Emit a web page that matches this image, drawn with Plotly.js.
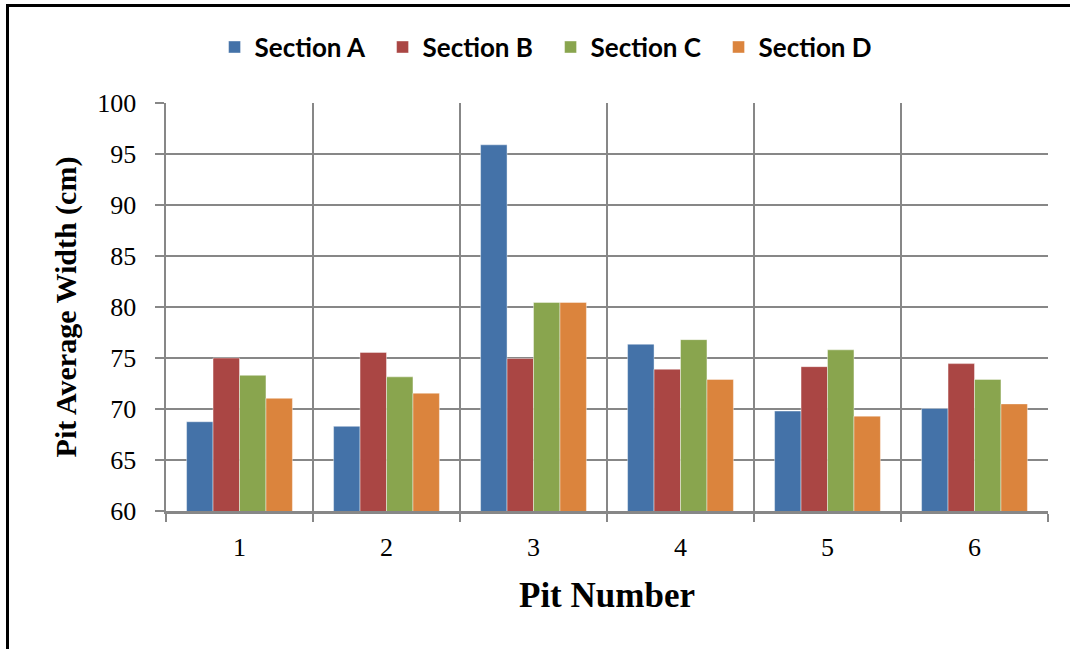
<!DOCTYPE html>
<html>
<head>
<meta charset="utf-8">
<script src="https://cdn.plot.ly/plotly-3.0.1.min.js"></script>
<style>
html,body{margin:0;padding:0;background:#fff;}
#chart{width:1070px;height:649px;}
#frame{position:absolute;left:6px;top:4px;width:1064px;height:645px;border-left:3px solid #000;border-top:3px solid #000;pointer-events:none;box-sizing:border-box;}
</style>
</head>
<body>
<div id="chart"></div>
<div id="frame"></div>
<script>
const pits = ["1", "2", "3", "4", "5", "6"];
const sectionA = [68.75, 68.3, 95.9, 76.35, 69.8, 70.05];
const sectionB = [75.0, 75.55, 74.95, 73.9, 74.15, 74.45];
const sectionC = [73.3, 73.15, 80.45, 76.8, 75.8, 72.9];
const sectionD = [71.05, 71.55, 80.45, 72.9, 69.3, 70.5];
const seriesNames = ["Section A", "Section B", "Section C", "Section D"];
const colors = ["#4472a8", "#aa4644", "#89a54e", "#db843d"];

const all = [sectionA, sectionB, sectionC, sectionD];
const traces = all.map((vals, i) => ({
  type: "bar",
  name: seriesNames[i],
  x: pits,
  y: vals,
  marker: {color: colors[i], line: {color: "rgba(255,255,255,0.6)", width: 0.7}},
  hoverinfo: "x+y+name"
}));

const serif = "'Liberation Serif', 'Times New Roman', serif";
const layout = {
  width: 1070, height: 649,
  margin: {l: 166, r: 22, t: 103, b: 138},
  paper_bgcolor: "#fff", plot_bgcolor: "#fff",
  barmode: "group",
  bargap: 0.28,
  bargroupgap: 0,
  showlegend: true,
  legend: {
    orientation: "h", x: 0.436, xanchor: "center", y: 1.137, yanchor: "middle",
    font: {family: "Lato, 'Open Sans', sans-serif", size: 26, color: "#000", weight: "bold"},
    itemwidth: 30, traceorder: "normal",
    entrywidth: 123, entrywidthmode: "pixels"
  },
  xaxis: {
    type: "category",
    tickson: "boundaries",
    showgrid: true, gridcolor: "#878787", gridwidth: 2.5,
    showline: true, linecolor: "#878787", linewidth: 2.5,
    ticks: "outside", ticklen: 8, tickwidth: 2.5, tickcolor: "#878787",
    ticklabelstandoff: 11,
    tickfont: {family: serif, size: 26, color: "#000"},
    title: {text: "Pit Number", font: {family: serif, size: 35, color: "#000", weight: "bold"}, standoff: 22},
    mirror: false, fixedrange: true
  },
  yaxis: {
    range: [60, 100],
    tickvals: [60, 65, 70, 75, 80, 85, 90, 95, 100],
    showgrid: true, gridcolor: "#878787", gridwidth: 2.5,
    showline: true, linecolor: "#878787", linewidth: 2.5,
    ticks: "outside", ticklen: 9, tickwidth: 2.5, tickcolor: "#878787",
    ticklabelstandoff: 13,
    tickfont: {family: serif, size: 26, color: "#000"},
    title: {text: "Pit Average Width (cm)", font: {family: serif, size: 30, color: "#000", weight: "bold"}, standoff: 12},
    zeroline: false, fixedrange: true
  }
};

Plotly.newPlot("chart", traces, layout, {displayModeBar: false, staticPlot: true});
</script>
</body>
</html>
